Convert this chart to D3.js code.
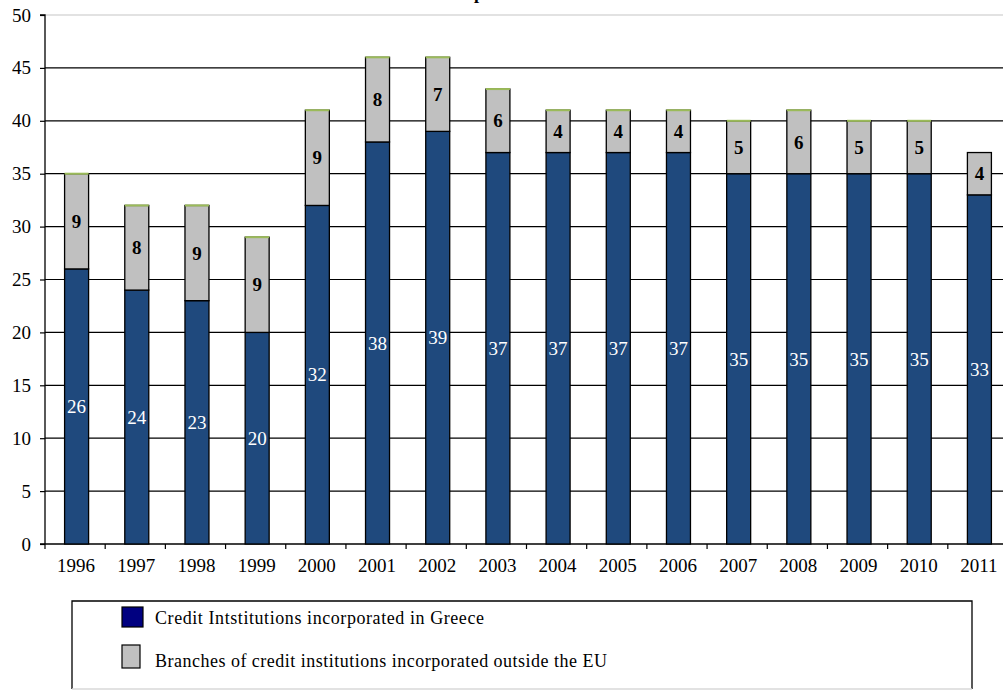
<!DOCTYPE html>
<html>
<head>
<meta charset="utf-8">
<script src="https://cdn.jsdelivr.net/npm/d3@7/dist/d3.min.js"></script>
<style>
  html, body { margin: 0; padding: 0; background: #fff; }
  svg { display: block; }
</style>
</head>
<body>
<svg id="chart" width="1003" height="691"></svg>
<script>
// Years on the category axis
const years = ["1996","1997","1998","1999","2000","2001","2002","2003","2004","2005","2006","2007","2008","2009","2010","2011"];
// Credit institutions incorporated in Greece
const greekValues = [26,24,23,20,32,38,39,37,37,37,37,35,35,35,35,33];
// Branches of credit institutions incorporated outside the EU
const nonEuValues = [9,8,9,9,9,8,7,6,4,4,4,5,6,5,5,4];
// Third stacked series (zero-height segments on top of the stacks)
const otherValues = [0,0,0,0,0,0,0,0,0,0,0,0,0,0,0,null];
// Value-axis ticks
const yTicks = [0,5,10,15,20,25,30,35,40,45,50];

const legendLabels = [
  "Credit Intstitutions incorporated in Greece",
  "Branches of credit institutions incorporated outside the EU"
];

const FONT = "Liberation Serif";
const svg = d3.select("#chart");
const plot = { left: 45, right: 1008, top: 15, bottom: 544 };

const x = d3.scaleBand().domain(years).range([plot.left, plot.right]);
const y = d3.scaleLinear().domain([0, 50]).range([plot.bottom, plot.top]);
const barW = 24;

// Title (sits mostly above the visible area)
svg.append("text")
  .attr("x", 422).attr("y", -1)
  .attr("font-family", FONT)
  .attr("font-size", 18).attr("font-weight", "bold")
  .text("Developments in credit institutions");

// Horizontal gridlines
svg.append("g").selectAll("line")
  .data(yTicks.filter(d => d > 0))
  .join("line")
  .attr("x1", plot.left).attr("x2", 1003)
  .attr("y1", d => y(d)).attr("y2", d => y(d))
  .attr("stroke", d => d === 50 ? "#d9d9d9" : "#000")
  .attr("stroke-width", d => d === 50 ? 1.5 : 1.2);

// Y axis
const yAxis = svg.append("g")
  .attr("transform", `translate(${plot.left},0)`)
  .call(d3.axisLeft(y).tickValues(yTicks).tickSize(5).tickPadding(9));
yAxis.attr("font-family", FONT).attr("font-size", 19);
yAxis.select(".domain").attr("stroke", "#000").attr("stroke-width", 1.3).attr("d", `M-5,${y(50)}H0V${y(0)}`);
yAxis.selectAll(".tick line").attr("stroke", "#000").attr("stroke-width", 1.2);
yAxis.selectAll(".tick text").attr("fill", "#000");

// X axis
const xAxisG = svg.append("g").attr("transform", `translate(0,${plot.bottom})`);
xAxisG.append("line")
  .attr("x1", plot.left - 5).attr("x2", 1003)
  .attr("y1", 0).attr("y2", 0)
  .attr("stroke", "#000").attr("stroke-width", 1.3);
xAxisG.selectAll("line.tick")
  .data(years)
  .join("line").attr("class", "tick")
  .attr("x1", d => x(d)).attr("x2", d => x(d))
  .attr("y1", 0).attr("y2", 5)
  .attr("stroke", "#000").attr("stroke-width", 1.2);
xAxisG.selectAll("text")
  .data(years)
  .join("text")
  .attr("x", d => x(d) + x.bandwidth() / 2 + 1)
  .attr("y", 28)
  .attr("text-anchor", "middle")
  .attr("font-family", FONT)
  .attr("font-size", 19)
  .text(d => d);

// Stacked bars
const rows = years.map((yr, i) => ({ year: yr, greek: greekValues[i], nonEu: nonEuValues[i], other: otherValues[i] }));
const barX = d => x(d.year) + x.bandwidth() / 2 - barW / 2 + 1.5;

const bars = svg.append("g");
bars.selectAll("rect.greek")
  .data(rows).join("rect").attr("class", "greek")
  .attr("x", barX).attr("width", barW)
  .attr("y", d => y(d.greek)).attr("height", d => y(0) - y(d.greek))
  .attr("fill", "#1f497d").attr("stroke", "#000").attr("stroke-width", 1.3);

bars.selectAll("rect.nonEu")
  .data(rows).join("rect").attr("class", "nonEu")
  .attr("x", barX).attr("width", barW)
  .attr("y", d => y(d.greek + d.nonEu)).attr("height", d => y(d.greek) - y(d.greek + d.nonEu))
  .attr("fill", "#c0c0c0").attr("stroke", "#000").attr("stroke-width", 1.3);

// Zero-height third segments show as a green cap
bars.selectAll("line.other")
  .data(rows.filter(d => d.other !== null)).join("line").attr("class", "other")
  .attr("x1", barX).attr("x2", d => barX(d) + barW)
  .attr("y1", d => y(d.greek + d.nonEu + d.other))
  .attr("y2", d => y(d.greek + d.nonEu + d.other))
  .attr("stroke", "#9bbb59").attr("stroke-width", 2);

// Value labels
bars.selectAll("text.greekLbl")
  .data(rows).join("text").attr("class", "greekLbl")
  .attr("x", d => barX(d) + barW / 2)
  .attr("y", d => y(d.greek / 2))
  .attr("dy", "0.35em")
  .attr("text-anchor", "middle")
  .attr("font-family", FONT)
  .attr("font-size", 19).attr("fill", "#fff")
  .text(d => d.greek);

bars.selectAll("text.nonEuLbl")
  .data(rows).join("text").attr("class", "nonEuLbl")
  .attr("x", d => barX(d) + barW / 2)
  .attr("y", d => y(d.greek + d.nonEu / 2))
  .attr("dy", "0.35em")
  .attr("text-anchor", "middle")
  .attr("font-family", FONT)
  .attr("font-size", 19).attr("font-weight", "bold").attr("fill", "#000")
  .text(d => d.nonEu);

// Legend
const legend = svg.append("g");
legend.append("path")
  .attr("d", "M72,689V601H972V689")
  .attr("fill", "none").attr("stroke", "#000").attr("stroke-width", 1.3);
legend.append("line")
  .attr("x1", 72).attr("x2", 972).attr("y1", 689).attr("y2", 689)
  .attr("stroke", "#d9d9d9").attr("stroke-width", 1.3);

const swatches = [
  { y: 607, h: 20, w: 21, fill: "#000080" },
  { y: 645, h: 23, w: 18, fill: "#c0c0c0" }
];
legend.selectAll("rect")
  .data(swatches).join("rect")
  .attr("x", 122).attr("y", d => d.y).attr("width", d => d.w).attr("height", d => d.h)
  .attr("fill", d => d.fill).attr("stroke", "#000").attr("stroke-width", 1.2);
legend.selectAll("text")
  .data(legendLabels).join("text")
  .attr("x", 155).attr("y", (d, i) => i === 0 ? 624 : 667)
  .attr("font-family", FONT)
  .attr("font-size", 18)
  .attr("textLength", (d, i) => i === 0 ? 329 : 452)
  .attr("lengthAdjust", "spacing")
  .text(d => d);
</script>
</body>
</html>
